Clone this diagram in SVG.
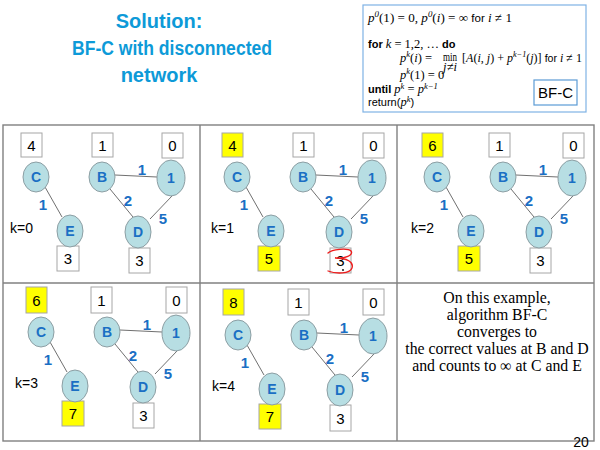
<svg xmlns="http://www.w3.org/2000/svg" width="600" height="450" viewBox="0 0 600 450">
<style>
.title{font-family:"Liberation Sans",Arial,sans-serif;font-weight:bold;font-size:20px;fill:#0d9ad8;text-anchor:middle}
.m{font-family:"Liberation Serif","DejaVu Serif",serif;font-style:italic;font-size:12.5px;fill:#000}
.mu{font-family:"Liberation Serif","DejaVu Serif",serif;font-style:normal;font-size:12.5px;fill:#000}
.s{font-family:"Liberation Sans",Arial,sans-serif;font-size:11px;fill:#000;font-style:normal}
.sb{font-family:"Liberation Sans",Arial,sans-serif;font-size:11px;font-weight:bold;fill:#000;font-style:normal}
.sup{font-size:8.5px}
.grid{fill:none;stroke:#808080;stroke-width:1.4}
.node{fill:#b7dee3;stroke:#8c9ea3;stroke-width:1}
.nl{font-family:"Liberation Sans",Arial,sans-serif;font-weight:bold;font-size:14px;fill:#1a6fc4;text-anchor:middle}
.el{font-family:"Liberation Sans",Arial,sans-serif;font-weight:bold;font-size:15px;fill:#1a6fc4;text-anchor:middle}
.edge{stroke:#707070;stroke-width:1;fill:none}
.vb{fill:#fff;stroke:#a6a6a6;stroke-width:1}
.vy{fill:#ffff00;stroke:#a6a6a6;stroke-width:1}
.vt{font-family:"Liberation Sans",Arial,sans-serif;font-size:15px;fill:#000;text-anchor:middle}
.k{font-family:"Liberation Sans",Arial,sans-serif;font-size:14px;fill:#000}
.note{font-family:"Liberation Serif","DejaVu Serif",serif;font-size:15.8px;fill:#000;text-anchor:middle}
</style>
<defs>
<g id="edges">
<line class="edge" x1="45" y1="187" x2="62" y2="217"/>
<line class="edge" x1="115" y1="175" x2="157" y2="177"/>
<line class="edge" x1="110" y1="189" x2="133" y2="217"/>
<line class="edge" x1="172" y1="196" x2="150" y2="219"/>
</g>
<g id="elabels">
<text class="el" x="43" y="210">1</text>
<text class="el" x="142" y="175">1</text>
<text class="el" x="128" y="206">2</text>
<text class="el" x="163" y="224">5</text>
</g>
</defs>

<rect width="600" height="450" fill="#fff"/>

<g id="title">
<text class="title" x="159" y="28">Solution:</text>
<text class="title" x="172" y="55" textLength="200" lengthAdjust="spacingAndGlyphs">BF-C with disconnected</text>
<text class="title" x="159" y="82">network</text>
</g>

<g id="algorithm">
<rect x="363" y="5" width="223" height="107" fill="#fff" stroke="#7fb2e5" stroke-width="1.2"/>
<text class="m" x="368" y="22" textLength="144" lengthAdjust="spacingAndGlyphs">p<tspan class="sup" dy="-5">0</tspan><tspan class="mu" dy="5">(1) = 0,  </tspan>p<tspan class="sup" dy="-5">0</tspan><tspan class="mu" dy="5">(</tspan>i<tspan class="mu">) = ∞ </tspan><tspan class="s">for </tspan>i<tspan class="mu"> ≠ 1</tspan></text>
<text class="m" x="368" y="48"><tspan class="sb">for </tspan>k<tspan class="mu"> = 1,2, … </tspan><tspan class="sb">do</tspan></text>
<text class="m" x="400" y="62">p<tspan class="sup" dy="-5">k</tspan><tspan class="mu" dy="5">(</tspan>i<tspan class="mu">) =</tspan></text>
<text class="mu" x="443" y="61" font-size="11" textLength="14" lengthAdjust="spacingAndGlyphs">min</text>
<text class="m" x="450" y="71" font-size="7" text-anchor="middle">j≠i</text>
<text class="m" x="462" y="62" textLength="120" lengthAdjust="spacingAndGlyphs"><tspan class="mu">[</tspan>A<tspan class="mu">(</tspan>i<tspan class="mu">, </tspan>j<tspan class="mu">) + </tspan>p<tspan class="sup" dy="-5">k−1</tspan><tspan class="mu" dy="5">(</tspan>j<tspan class="mu">)] </tspan><tspan class="s">for </tspan>i<tspan class="mu"> ≠ 1</tspan></text>
<text class="m" x="400" y="79">p<tspan class="sup" dy="-5">k</tspan><tspan class="mu" dy="5">(1) = 0</tspan></text>
<text class="m" x="368" y="93"><tspan class="sb">until </tspan>p<tspan class="sup" dy="-4">k</tspan><tspan class="mu" dy="4"> = </tspan>p<tspan class="sup" dy="-4">k−1</tspan></text>
<text class="m" x="368" y="106"><tspan class="s">return(</tspan>p<tspan class="sup" dy="-4">k</tspan><tspan class="s" dy="4">)</tspan></text>
<rect x="534" y="80" width="43" height="25" fill="#fff" stroke="#5b9bd5" stroke-width="1.2"/>
<text x="555.5" y="98" font-family="Liberation Sans,Arial,sans-serif" font-size="15" text-anchor="middle">BF-C</text>
</g>

<g id="grid">
<rect class="grid" x="3" y="125" width="591" height="316"/>
<line class="grid" x1="200" y1="125" x2="200" y2="441"/>
<line class="grid" x1="397" y1="125" x2="397" y2="441"/>
<line class="grid" x1="3" y1="283" x2="594" y2="283"/>
</g>

<!-- Panel k=0 -->
<g id="panel-k0">
<g id="connectors-k0"><use href="#edges"/><use href="#elabels"/></g>
<g id="k0-C"><rect class="vb" x="21" y="133" width="21" height="24"/><text class="vt" x="31.5" y="151">4</text><ellipse class="node" cx="36" cy="177" rx="13" ry="15"/><text class="nl" x="36" y="182">C</text></g>
<g id="k0-E"><rect class="vb" x="57" y="246" width="22" height="25"/><text class="vt" x="68" y="264">3</text><ellipse class="node" cx="70" cy="231" rx="13" ry="16"/><text class="nl" x="70" y="236">E</text></g>
<g id="k0-B"><rect class="vb" x="92" y="133" width="21" height="24"/><text class="vt" x="102.5" y="151">1</text><ellipse class="node" cx="102" cy="177" rx="13" ry="15"/><text class="nl" x="102" y="182">B</text></g>
<g id="k0-1"><rect class="vb" x="162" y="133" width="21" height="25"/><text class="vt" x="172.5" y="151">0</text><ellipse class="node" cx="171" cy="178" rx="14" ry="18"/><text class="nl" x="171" y="183">1</text></g>
<g id="k0-D"><rect class="vb" x="129" y="248" width="21" height="25"/><text class="vt" x="139.5" y="266">3</text><ellipse class="node" cx="138" cy="232" rx="13" ry="16"/><text class="nl" x="138" y="237">D</text></g>
<text class="k" x="10" y="233">k=0</text>
</g>

<!-- Panel k=1 -->
<g id="panel-k1" transform="translate(201,0)">
<g id="connectors-k1"><use href="#edges"/><use href="#elabels"/></g>
<g id="k1-C"><rect class="vy" x="21" y="133" width="21" height="24"/><text class="vt" x="31.5" y="151">4</text><ellipse class="node" cx="36" cy="177" rx="13" ry="15"/><text class="nl" x="36" y="182">C</text></g>
<g id="k1-E"><rect class="vy" x="57" y="246" width="22" height="25"/><text class="vt" x="68" y="264">5</text><ellipse class="node" cx="70" cy="231" rx="13" ry="16"/><text class="nl" x="70" y="236">E</text></g>
<g id="k1-B"><rect class="vb" x="92" y="133" width="21" height="24"/><text class="vt" x="102.5" y="151">1</text><ellipse class="node" cx="102" cy="177" rx="13" ry="15"/><text class="nl" x="102" y="182">B</text></g>
<g id="k1-1"><rect class="vb" x="162" y="133" width="21" height="25"/><text class="vt" x="172.5" y="151">0</text><ellipse class="node" cx="171" cy="178" rx="14" ry="18"/><text class="nl" x="171" y="183">1</text></g>
<g id="k1-D"><rect class="vb" x="129" y="248" width="21" height="25"/><text class="vt" x="139.5" y="266">3</text><circle cx="142" cy="270" r="0.9" fill="#000"/><ellipse class="node" cx="138" cy="232" rx="13" ry="16"/><text class="nl" x="138" y="237">D</text>
<path d="M127,253 C131,249 147,248 150,251 C153,255 144,259 134,258 C146,258 153,262 151,268 C149,274 135,274 127,271" fill="none" stroke="#ee1c1c" stroke-width="1.3" stroke-linecap="round"/></g>
<text class="k" x="10" y="233">k=1</text>
</g>

<!-- Panel k=2 -->
<g id="panel-k2" transform="translate(401,0)">
<g id="connectors-k2"><use href="#edges"/><use href="#elabels"/></g>
<g id="k2-C"><rect class="vy" x="21" y="133" width="21" height="24"/><text class="vt" x="31.5" y="151">6</text><ellipse class="node" cx="36" cy="177" rx="13" ry="15"/><text class="nl" x="36" y="182">C</text></g>
<g id="k2-E"><rect class="vy" x="57" y="246" width="22" height="25"/><text class="vt" x="68" y="264">5</text><ellipse class="node" cx="70" cy="231" rx="13" ry="16"/><text class="nl" x="70" y="236">E</text></g>
<g id="k2-B"><rect class="vb" x="88" y="133" width="21" height="24"/><text class="vt" x="98.5" y="151">1</text><ellipse class="node" cx="102" cy="177" rx="13" ry="15"/><text class="nl" x="102" y="182">B</text></g>
<g id="k2-1"><rect class="vb" x="162" y="133" width="21" height="25"/><text class="vt" x="172.5" y="151">0</text><ellipse class="node" cx="171" cy="178" rx="14" ry="18"/><text class="nl" x="171" y="183">1</text></g>
<g id="k2-D"><rect class="vb" x="129" y="248" width="21" height="25"/><text class="vt" x="139.5" y="266">3</text><ellipse class="node" cx="138" cy="232" rx="13" ry="16"/><text class="nl" x="138" y="237">D</text></g>
<text class="k" x="10" y="233">k=2</text>
</g>

<!-- Panel k=3 -->
<g id="panel-k3" transform="translate(5,155)">
<g id="connectors-k3"><use href="#edges"/><use href="#elabels"/></g>
<g id="k3-C"><rect class="vy" x="21" y="132" width="21" height="26"/><text class="vt" x="31.5" y="151">6</text><ellipse class="node" cx="36" cy="177" rx="13" ry="15"/><text class="nl" x="36" y="182">C</text></g>
<g id="k3-E"><rect class="vy" x="57" y="246" width="22" height="25"/><text class="vt" x="68" y="264">7</text><ellipse class="node" cx="70" cy="231" rx="13" ry="16"/><text class="nl" x="70" y="236">E</text></g>
<g id="k3-B"><rect class="vb" x="86" y="132" width="21" height="26"/><text class="vt" x="96.5" y="151">1</text><ellipse class="node" cx="102" cy="177" rx="13" ry="15"/><text class="nl" x="102" y="182">B</text></g>
<g id="k3-1"><rect class="vb" x="161" y="132" width="21" height="26"/><text class="vt" x="171.5" y="151">0</text><ellipse class="node" cx="171" cy="178" rx="14" ry="18"/><text class="nl" x="171" y="183">1</text></g>
<g id="k3-D"><rect class="vb" x="128" y="248" width="21" height="25"/><text class="vt" x="138.5" y="266">3</text><ellipse class="node" cx="138" cy="232" rx="13" ry="16"/><text class="nl" x="138" y="237">D</text></g>
<text class="k" x="10" y="233">k=3</text>
</g>

<!-- Panel k=4 -->
<g id="panel-k4" transform="translate(202,158)">
<g id="connectors-k4"><use href="#edges"/><use href="#elabels"/></g>
<g id="k4-C"><rect class="vy" x="21" y="131" width="21" height="26"/><text class="vt" x="31.5" y="150">8</text><ellipse class="node" cx="36" cy="177" rx="13" ry="15"/><text class="nl" x="36" y="182">C</text></g>
<g id="k4-E"><rect class="vy" x="57" y="246" width="22" height="25"/><text class="vt" x="68" y="264">7</text><ellipse class="node" cx="70" cy="231" rx="13" ry="16"/><text class="nl" x="70" y="236">E</text></g>
<g id="k4-B"><rect class="vb" x="86" y="131" width="21" height="26"/><text class="vt" x="96.5" y="150">1</text><ellipse class="node" cx="102" cy="177" rx="13" ry="15"/><text class="nl" x="102" y="182">B</text></g>
<g id="k4-1"><rect class="vb" x="161" y="131" width="21" height="26"/><text class="vt" x="171.5" y="150">0</text><ellipse class="node" cx="171" cy="178" rx="14" ry="18"/><text class="nl" x="171" y="183">1</text></g>
<g id="k4-D"><rect class="vb" x="128" y="247" width="21" height="26"/><text class="vt" x="138.5" y="266">3</text><ellipse class="node" cx="138" cy="232" rx="13" ry="16"/><text class="nl" x="138" y="237">D</text></g>
<text class="k" x="10" y="233">k=4</text>
</g>

<g id="conclusion">
<text class="note" x="497" y="303">On this example,</text>
<text class="note" x="497" y="320">algorithm BF-C</text>
<text class="note" x="497" y="337">converges to</text>
<text class="note" x="497" y="354">the correct values at B and D</text>
<text class="note" x="497" y="371">and counts to  ∞ at C and E</text>
</g>
<text x="581" y="447" font-family="Liberation Sans,Arial,sans-serif" font-size="14" text-anchor="middle">20</text>
</svg>
